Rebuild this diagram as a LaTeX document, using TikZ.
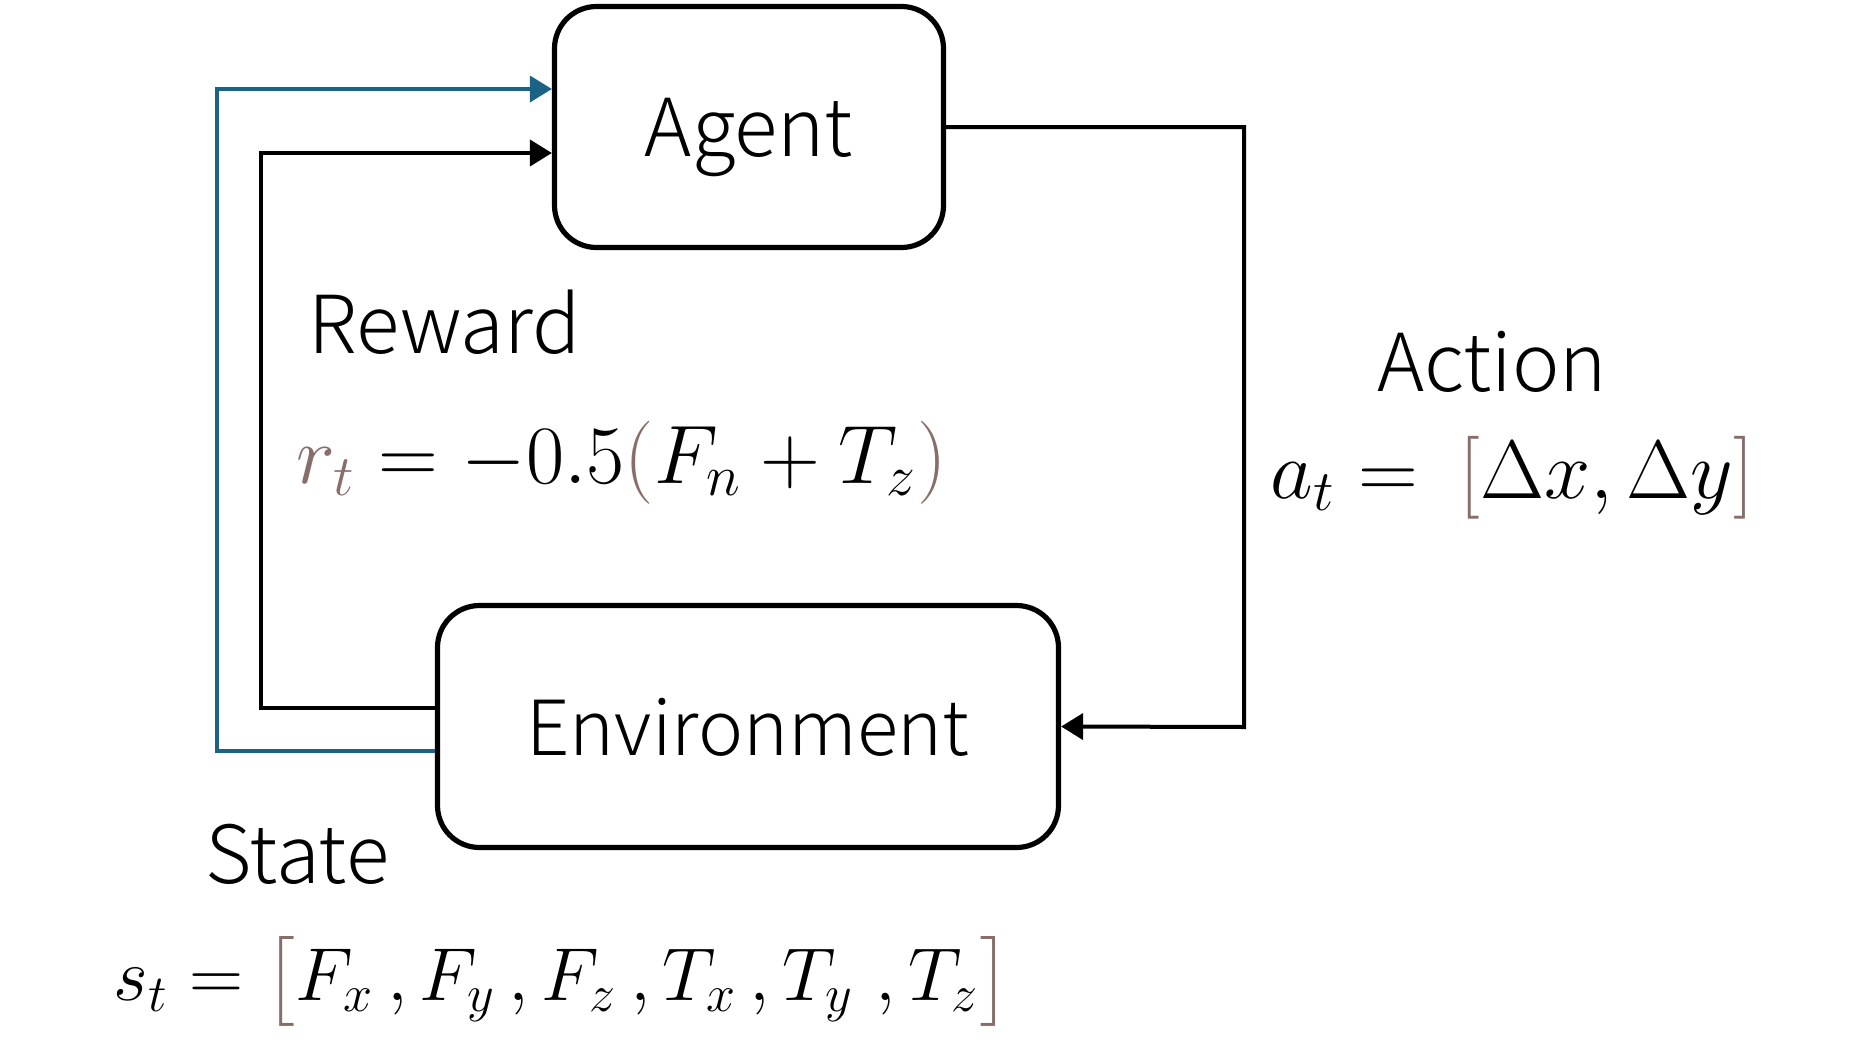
\documentclass[tikz,border=0pt]{standalone}
\usepackage{amsmath}
\usepackage{fontspec}
\setmainfont{Noto Sans CJK SC}[UprightFont={* Light}]
\usetikzlibrary{arrows.meta}
\definecolor{brn}{RGB}{135,110,106}
\definecolor{stblue}{RGB}{26,99,133}
\begin{document}
\begin{tikzpicture}[x=0.5pt,y=-0.5pt,
  box/.style={draw,line width=2.6pt,rounded corners=21pt,inner sep=0pt,
    font=\fontsize{40}{48}\selectfont,text depth=0pt},
  conn/.style={line width=2pt,-{Triangle[length=11pt,width=13pt]}},
  lbl/.style={font=\fontsize{40}{48}\selectfont,inner sep=0pt,anchor=base west},
  eq/.style={font=\fontsize{20}{24}\selectfont,inner sep=0pt,anchor=base west,scale=2,transform shape}]
\useasboundingbox (0,0) rectangle (1870,1049);

\node[box,minimum width=194.5pt,minimum height=120.5pt] (agent) at (749,127) {Agent};
\node[box,minimum width=310.5pt,minimum height=121pt,font=\fontsize{38}{46}\selectfont] (env) at (748,726.5) {Environment};

\draw[conn] (agent.east) -| (1244,727) -- (env.east);
\draw[conn] ([yshift=9.25pt]env.west) -| (261,153) -- ([yshift=-13pt]agent.west);
\draw[conn,stblue,line width=1.8pt] ([yshift=-12.25pt]env.west) -| (217,89) -- ([yshift=19pt]agent.west);

\node[lbl] (reward) at (308,353) {Reward};
\node[eq] (rewardeq) at (296,483) {$\color{brn}r_t\color{black} = -0.5{\color{brn}(}F_n+T_z{\color{brn})}$};
\node[lbl] (action) at (1377,391) {Action};
\node[eq] (actioneq) at (1270,498) {$a_t = \ {\color{brn}[}\Delta x,\Delta y{\color{brn}]}$};
\node[lbl] (state) at (205,883) {State};
\node[eq,font=\fontsize{17.28}{21}\selectfont,scale=1.085] (stateeq) at (113,1000) {$s_t = {\color{brn}\big[}F_x\,,F_y\,,F_z\,,T_x\,,T_y\;,T_z{\color{brn}\big]}$};
\end{tikzpicture}
\end{document}
